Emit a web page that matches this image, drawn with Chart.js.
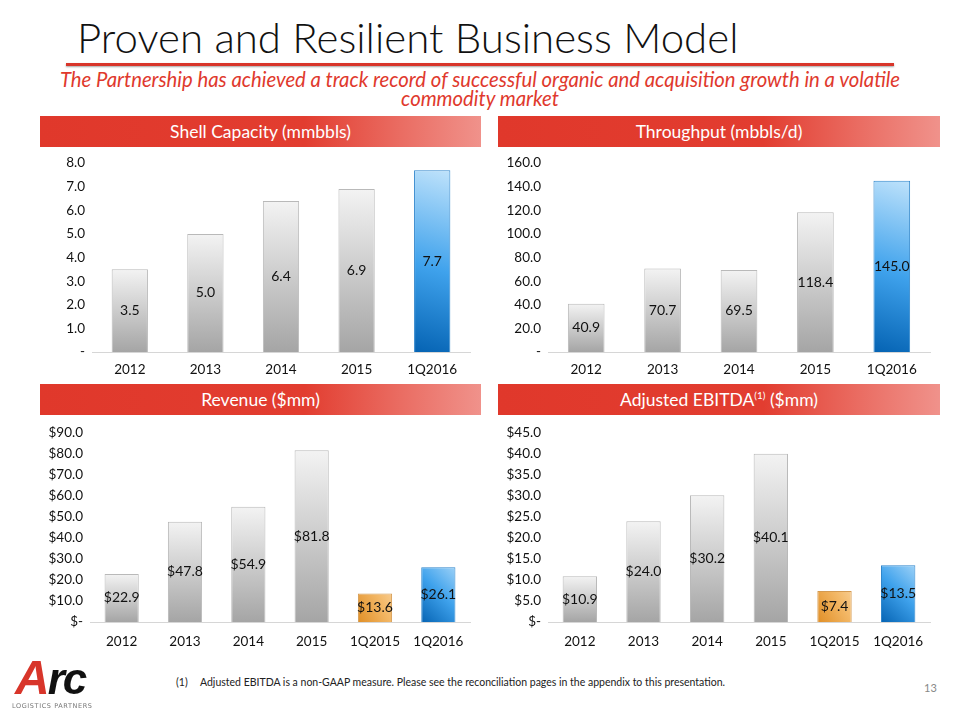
<!DOCTYPE html>
<html>
<head>
<meta charset="utf-8">
<script src="https://cdn.jsdelivr.net/npm/chart.js@4.4.1/dist/chart.umd.min.js"></script>
<style>
  html, body { margin: 0; padding: 0; background: #fff; }
  body { width: 960px; height: 720px; position: relative; overflow: hidden; font-family: Lato, "Open Sans", sans-serif; }
  .title { position: absolute; left: 77px; top: 12px; font-size: 42px; font-weight: 300; color: #111; white-space: nowrap; }
  .rule { position: absolute; left: 66px; top: 63px; width: 828px; height: 3px; background: #d8352a; box-shadow: 0 1px 2px rgba(0,0,0,0.35); }
  .sub { position: absolute; left: 0; width: 960px; top: 70px; text-align: center; font-style: italic; font-size: 20.3px; line-height: 19px; color: #e0392d; }
  .head { position: absolute; height: 31px; line-height: 31px; color: #fff; font-size: 17.5px; text-align: center;
          background: linear-gradient(to right, #e0382b 0%, #e23d30 60%, #ea6d63 82%, #f0928b 100%); }
  .head sup { font-size: 10px; line-height: 0; vertical-align: 7px; }
  .box { position: absolute; }
  .note { position: absolute; left: 176px; top: 676px; font-size: 10.5px; color: #222; }
  .note span { display: inline-block; width: 24px; }
  .page { position: absolute; left: 924px; top: 681px; font-size: 11px; color: #888; }
  .logo { position: absolute; left: 12px; top: 656px; width: 92px; }
  .logo .arc { font-family: "Liberation Sans", Arial, sans-serif; font-weight: bold; font-style: italic; font-size: 44px; line-height: 44px; letter-spacing: -2px; color: #111; padding-left: 3px; }
  .logo .arc b { color: #d8352a; font-size: 48px; }
  .logo .lp { font-family: "DejaVu Sans", sans-serif; font-size: 6.5px; letter-spacing: 0.6px; color: #777; margin-top: 1px; white-space: nowrap; }
</style>
</head>
<body>
<div class="title">Proven and Resilient Business Model</div>
<div class="rule"></div>
<div class="sub">The Partnership has achieved a track record of successful organic and acquisition growth in a volatile<br>commodity market</div>

<div class="head" style="left:40px; top:116px; width:441px;">Shell Capacity (mmbbls)</div>
<div class="head" style="left:498px; top:116px; width:442px;">Throughput (mbbls/d)</div>
<div class="head" style="left:40px; top:384px; width:441px;">Revenue ($mm)</div>
<div class="head" style="left:498px; top:384px; width:442px;">Adjusted EBITDA<sup>(1)</sup> ($mm)</div>

<div class="box" style="left:40px; top:148px; width:440px; height:236px;"><canvas id="capChart"></canvas></div>
<div class="box" style="left:498px; top:148px; width:442px; height:236px;"><canvas id="tputChart"></canvas></div>
<div class="box" style="left:40px; top:418px; width:440px; height:240px;"><canvas id="revChart"></canvas></div>
<div class="box" style="left:498px; top:418px; width:442px; height:240px;"><canvas id="ebitdaChart"></canvas></div>

<div class="logo"><div class="arc"><b>A</b>rc</div><div class="lp">LOGISTICS PARTNERS</div></div>
<div class="note"><span>(1)</span>Adjusted EBITDA is a non-GAAP measure. Please see the reconciliation pages in the appendix to this presentation.</div>
<div class="page">13</div>

<script>
// --- DATA ---
const yearLabels = ['2012', '2013', '2014', '2015', '1Q2016'];
const quarterLabels = ['2012', '2013', '2014', '2015', '1Q2015', '1Q2016'];

const shellCapacity = [3.5, 5.0, 6.4, 6.9, 7.7];
const throughput = [40.9, 70.7, 69.5, 118.4, 145.0];
const revenue = [22.9, 47.8, 54.9, 81.8, 13.6, 26.1];
const ebitda = [10.9, 24.0, 30.2, 40.1, 7.4, 13.5];

// --- BAR STYLING ---
function barKind(label) {
    if (label === '1Q2016') return 'blue';
    if (label === '1Q2015') return 'orange';
    return 'gray';
}

function barFill(c) {
    const chart = c.chart;
    const kind = barKind(chart.data.labels[c.dataIndex]);
    const flat = kind === 'blue' ? '#3a9de8' : kind === 'orange' ? '#f0b060' : '#cccccc';
    if (!chart.chartArea || c.type !== 'data') return flat;

    const sx = chart.scales.x, sy = chart.scales.y;
    const top = sy.getPixelForValue(c.raw);
    const bottom = sy.getPixelForValue(0);
    const x = sx.getPixelForValue(c.dataIndex);
    const half = 18;
    let g;
    if (kind === 'gray') {
        g = chart.ctx.createLinearGradient(0, top, 0, bottom);
        g.addColorStop(0, '#f3f3f3');
        g.addColorStop(1, '#a5a5a5');
    } else if (kind === 'blue') {
        g = chart.ctx.createLinearGradient(x - half, bottom, x + half * 2, top);
        g.addColorStop(0, '#0563b3');
        g.addColorStop(0.45, '#3fa2ec');
        g.addColorStop(1, '#c6e6fc');
    } else {
        g = chart.ctx.createLinearGradient(x - half, bottom, x + half * 2, top);
        g.addColorStop(0, '#e08e25');
        g.addColorStop(0.5, '#f3b867');
        g.addColorStop(1, '#fde2bb');
    }
    return g;
}

function barBorder(c) {
    const kind = barKind(c.chart.data.labels[c.dataIndex]);
    return kind === 'blue' ? '#2f86cc' : kind === 'orange' ? '#d49a50' : '#b9b9b9';
}

// value labels drawn in the middle of each bar
const midLabels = {
    id: 'midLabels',
    afterDatasetsDraw(chart) {
        const ctx = chart.ctx;
        const prefix = chart.options.plugins.midLabels.prefix || '';
        const meta = chart.getDatasetMeta(0);
        ctx.save();
        ctx.font = '14px Lato, "Open Sans", sans-serif';
        ctx.fillStyle = '#111';
        ctx.textAlign = 'center';
        ctx.textBaseline = 'middle';
        meta.data.forEach((bar, i) => {
            const v = chart.data.datasets[0].data[i];
            ctx.fillText(prefix + v.toFixed(1), bar.x, (bar.y + bar.base) / 2);
        });
        ctx.restore();
    }
};

function makeChart(id, labels, values, max, step, prefix, yWidth, barPct, xHeight, xPad) {
    const ctx = document.getElementById(id).getContext('2d');
    return new Chart(ctx, {
        type: 'bar',
        data: {
            labels: labels,
            datasets: [{
                data: values,
                backgroundColor: barFill,
                borderColor: barBorder,
                borderWidth: 1,
                barPercentage: barPct,
                categoryPercentage: 1
            }]
        },
        options: {
            responsive: true,
            maintainAspectRatio: false,
            animation: false,
            layout: { padding: { top: 11, right: 10, bottom: 0, left: 0 } },
            plugins: {
                legend: { display: false },
                tooltip: { enabled: false },
                midLabels: { prefix: prefix }
            },
            scales: {
                x: {
                    grid: { display: false, drawTicks: false },
                    border: { display: true, color: '#d6d6d6', width: 1 },
                    ticks: { color: '#111', font: { family: 'Lato', size: 13.5 }, padding: xPad, maxRotation: 0 },
                    afterFit: s => { s.height = xHeight; }
                },
                y: {
                    min: 0,
                    max: max,
                    grid: { display: false, drawTicks: false },
                    border: { display: false },
                    ticks: {
                        stepSize: step,
                        color: '#111',
                        font: { family: 'Lato', size: 13.5 },
                        padding: 7,
                        callback: v => v === 0 ? prefix + '-' : prefix + v.toFixed(1)
                    },
                    afterFit: s => { s.width = yWidth; }
                }
            }
        },
        plugins: [midLabels]
    });
}

makeChart('capChart', yearLabels, shellCapacity, 8, 1, '', 52, 0.48, 32, 10);
makeChart('tputChart', yearLabels, throughput, 160, 20, '', 50, 0.48, 32, 10);
makeChart('revChart', quarterLabels, revenue, 90, 10, '$', 50, 0.54, 36, 12);
makeChart('ebitdaChart', quarterLabels, ebitda, 45, 5, '$', 50, 0.54, 36, 12);
</script>
</body>
</html>
